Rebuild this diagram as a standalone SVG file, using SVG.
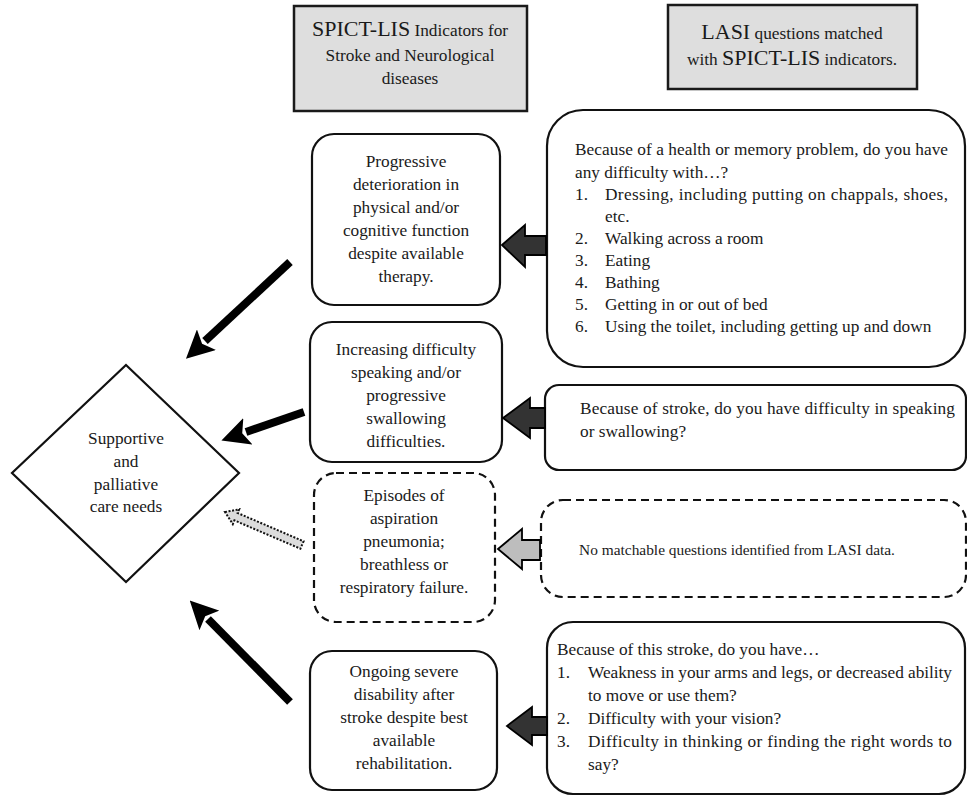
<svg xmlns="http://www.w3.org/2000/svg" width="967" height="796" viewBox="0 0 967 796">
<style>
text{font-family:"Liberation Serif","Times New Roman",serif;font-size:17.3px;fill:#1a1a1a}
.c{text-anchor:middle}
.big{font-size:22px}
.hdr{fill:#dedede;stroke:#1a1a1a;stroke-width:2.5}
.box{fill:#fff;stroke:#111;stroke-width:2.2}
.dash{fill:#fff;stroke:#111;stroke-width:2.2;stroke-dasharray:8,5}
.blk{fill:#333;stroke:#000;stroke-width:1.8}
.gry{fill:#bdbdbd;stroke:#000;stroke-width:1.8}
.thick{stroke:#000;stroke-width:8;fill:none}
</style>
<defs>
<marker id="ah" markerUnits="userSpaceOnUse" markerWidth="28" markerHeight="28" refX="2" refY="14" orient="auto" viewBox="0 0 28 28">
<path d="M0,0 L28,14 L0,28 L6,14 Z" fill="#000"/>
</marker>
</defs>

<g id="header-spict">
<rect class="hdr" x="294" y="6" width="233" height="105"/>
<text class="c" x="410" y="36"><tspan class="big">SPICT-LIS</tspan> Indicators for</text>
<text class="c" x="410" y="61">Stroke and Neurological</text>
<text class="c" x="410" y="84">diseases</text>
</g>

<g id="header-lasi">
<rect class="hdr" x="668" y="5" width="249" height="84"/>
<text class="c" x="792" y="39"><tspan class="big">LASI</tspan> questions matched</text>
<text class="c" x="792" y="65">with <tspan class="big">SPICT-LIS</tspan> indicators.</text>
</g>

<g id="diamond">
<polygon class="box" points="126,365 239,473 126,582 12,473"/>
<text class="c" x="126" y="444">Supportive</text>
<text class="c" x="126" y="467">and</text>
<text class="c" x="126" y="490">palliative</text>
<text class="c" x="126" y="512">care needs</text>
</g>

<g id="ind-progressive">
<rect class="box" x="312" y="134" width="188" height="171" rx="22"/>
<text class="c" x="406" y="167">Progressive</text>
<text class="c" x="406" y="190">deterioration in</text>
<text class="c" x="406" y="213">physical and/or</text>
<text class="c" x="406" y="236">cognitive function</text>
<text class="c" x="406" y="259">despite available</text>
<text class="c" x="406" y="282">therapy.</text>
</g>

<g id="ind-speaking">
<rect class="box" x="310" y="322" width="192" height="140" rx="22"/>
<text class="c" x="406" y="355">Increasing difficulty</text>
<text class="c" x="406" y="378">speaking and/or</text>
<text class="c" x="406" y="401">progressive</text>
<text class="c" x="406" y="424">swallowing</text>
<text class="c" x="406" y="447">difficulties.</text>
</g>

<g id="ind-aspiration">
<rect class="dash" x="314" y="473" width="181" height="149" rx="22"/>
<text class="c" x="404" y="501">Episodes of</text>
<text class="c" x="404" y="524">aspiration</text>
<text class="c" x="404" y="547">pneumonia;</text>
<text class="c" x="404" y="570">breathless or</text>
<text class="c" x="404" y="593">respiratory failure.</text>
</g>

<g id="ind-disability">
<rect class="box" x="310" y="651" width="187" height="139" rx="22"/>
<text class="c" x="404" y="677">Ongoing severe</text>
<text class="c" x="404" y="700">disability after</text>
<text class="c" x="404" y="723">stroke despite best</text>
<text class="c" x="404" y="746">available</text>
<text class="c" x="404" y="769">rehabilitation.</text>
</g>

<g id="lasi-adl">
<rect class="box" x="547" y="110" width="418" height="257" rx="36"/>
<text x="575" y="155" textLength="373" lengthAdjust="spacing">Because of a health or memory problem, do you have</text>
<text x="575" y="178">any difficulty with…?</text>
<text x="575" y="200">1.</text><text x="605" y="200" textLength="343" lengthAdjust="spacing">Dressing, including putting on chappals, shoes,</text>
<text x="605" y="222">etc.</text>
<text x="575" y="244">2.</text><text x="605" y="244">Walking across a room</text>
<text x="575" y="266">3.</text><text x="605" y="266">Eating</text>
<text x="575" y="288">4.</text><text x="605" y="288">Bathing</text>
<text x="575" y="310">5.</text><text x="605" y="310">Getting in or out of bed</text>
<text x="575" y="332">6.</text><text x="605" y="332">Using the toilet, including getting up and down</text>
</g>

<g id="lasi-stroke-speech">
<rect class="box" x="545" y="385" width="421" height="85" rx="14"/>
<text x="580" y="414" textLength="375" lengthAdjust="spacing">Because of stroke, do you have difficulty in speaking</text>
<text x="580" y="437">or swallowing?</text>
</g>

<g id="lasi-none">
<rect class="dash" x="541" y="500" width="425" height="97" rx="22"/>
<text class="c" x="737" y="555" style="font-size:15.4px">No matchable questions identified from LASI data.</text>
</g>

<g id="lasi-stroke-effects">
<rect class="box" x="547" y="622" width="418" height="172" rx="26"/>
<text x="557" y="655">Because of this stroke, do you have…</text>
<text x="557" y="678">1.</text><text x="588" y="678" textLength="364" lengthAdjust="spacing">Weakness in your arms and legs, or decreased ability</text>
<text x="588" y="701">to move or use them?</text>
<text x="557" y="724">2.</text><text x="588" y="724">Difficulty with your vision?</text>
<text x="557" y="747">3.</text><text x="588" y="747" textLength="364" lengthAdjust="spacing">Difficulty in thinking or finding the right words to</text>
<text x="588" y="770">say?</text>
</g>

<g id="connectors">
<polygon class="blk" points="502,245 525,225 525,236 546,236 546,255 525,255 525,267"/>
<polygon class="blk" points="503,418 530,398 530,408 545,408 545,428 530,428 530,438"/>
<polygon class="gry" points="498,549 522,529 522,540 540,540 540,560 522,560 522,569"/>
<polygon class="blk" points="507,726 532,707 532,717 547,717 547,735 532,735 532,745"/>
<line class="thick" x1="290" y1="262" x2="205" y2="341" marker-end="url(#ah)"/>
<line class="thick" x1="304" y1="412" x2="246" y2="432" marker-end="url(#ah)"/>
<polygon points="225,512 239.2,509.3 237.6,513.0 303.6,541.3 300.4,548.7 234.4,520.4 232.8,524.1" fill="#dcdcdc" stroke="#111" stroke-width="2" stroke-dasharray="2,1.6"/>
<line class="thick" x1="290" y1="702" x2="208" y2="619" marker-end="url(#ah)"/>
</g>
</svg>
